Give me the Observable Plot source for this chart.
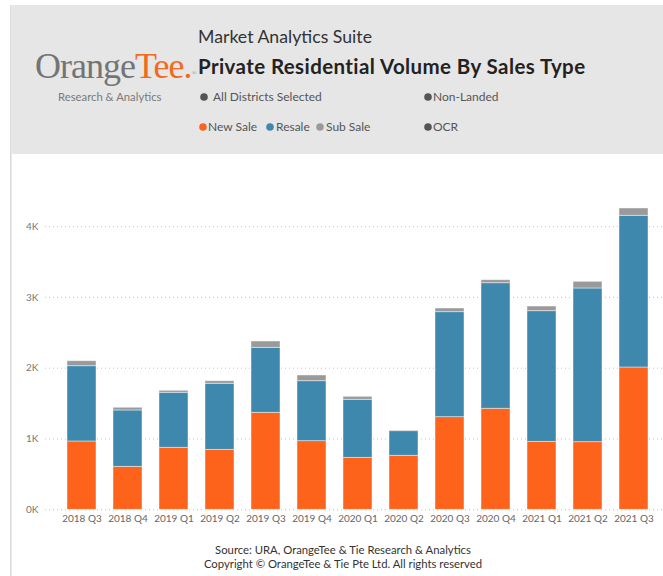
<!DOCTYPE html>
<html>
<head>
<meta charset="utf-8">
<script src="https://cdn.jsdelivr.net/npm/d3@7"></script>
<script src="https://cdn.jsdelivr.net/npm/@observablehq/plot@0.6"></script>
<style>
  html, body { margin: 0; padding: 0; }
  body { width: 663px; height: 576px; background: #fff; position: relative; overflow: hidden; font-family: Lato, "Open Sans", sans-serif; }
  #head { position: absolute; left: 0; top: 0; }
  #chart { position: absolute; left: 0; top: 154px; }
  #foot { position: absolute; left: 0; top: 543px; width: 686px; text-align: center; font-size: 11.3px; line-height: 14px; color: #333; }
  #edge { position: absolute; left: 10px; top: 5px; width: 2px; height: 571px; background: linear-gradient(to right, #d6d6d6, #ededed); }
</style>
</head>
<body>
<div id="edge"></div>
<svg id="head" width="663" height="154" xmlns="http://www.w3.org/2000/svg">
  <rect x="12" y="5" width="651" height="149" fill="#e6e6e6"></rect>
  <text x="35" y="78" font-family="'Liberation Serif', 'DejaVu Serif', serif" font-size="36" letter-spacing="-1" fill="#747474">Orange<tspan fill="#f26a22">Tee.</tspan><tspan fill="#999" font-size="7" dy="-3">®</tspan></text>
  <text x="58" y="101" font-size="11.3" fill="#7a7a7a" font-family="Lato, 'Open Sans', sans-serif">Research &amp; Analytics</text>
  <text x="198" y="43" font-size="17.7" fill="#333" font-family="Lato, 'Open Sans', sans-serif">Market Analytics Suite</text>
  <text x="198" y="74" font-size="20.5" font-weight="bold" letter-spacing="0.4" fill="#222" font-family="Lato, 'Open Sans', sans-serif">Private Residential Volume By Sales Type</text>
  <g font-size="12" fill="#555" font-family="Lato, 'Open Sans', sans-serif">
    <circle cx="204" cy="97" r="3.8" fill="#555"></circle>
    <text x="213" y="101">All Districts Selected</text>
    <circle cx="428" cy="97" r="3.8" fill="#555"></circle>
    <text x="433" y="101">Non-Landed</text>
    <circle cx="203" cy="127" r="3.8" fill="#fe631b"></circle>
    <text x="208" y="131">New Sale</text>
    <circle cx="270" cy="127" r="3.8" fill="#3f88ad"></circle>
    <text x="276" y="131">Resale</text>
    <circle cx="320" cy="127" r="3.8" fill="#9a9a9a"></circle>
    <text x="326" y="131">Sub Sale</text>
    <circle cx="428" cy="127" r="3.8" fill="#555"></circle>
    <text x="433" y="131">OCR</text>
  </g>
</svg>
<div id="chart"></div>
<div id="foot">Source: URA, OrangeTee &amp; Tie Research &amp; Analytics<br>Copyright © OrangeTee &amp; Tie Pte Ltd. All rights reserved</div>
<script>
const categories = ["2018 Q3","2018 Q4","2019 Q1","2019 Q2","2019 Q3","2019 Q4","2020 Q1","2020 Q2","2020 Q3","2020 Q4","2021 Q1","2021 Q2","2021 Q3"];
const types = ["New Sale","Resale","Sub Sale"];
const newSale = [965, 607, 876, 847, 1370, 969, 734, 763, 1308, 1427, 960, 955, 2010];
const resale  = [1063, 796, 777, 933, 918, 847, 820, 347, 1483, 1773, 1845, 2171, 2143];
const subSale = [71, 38, 28, 36, 89, 81, 42, 10, 52, 43, 66, 94, 103];
const yTicks = [0, 1000, 2000, 3000, 4000];
const colors = ["#fe631b", "#3f88ad", "#9a9a9a"];

const series = [newSale, resale, subSale];
const rows = [];
categories.forEach((q, i) => {
  types.forEach((t, j) => rows.push({quarter: q, type: t, value: series[j][i]}));
});

const chart = Plot.plot({
  width: 663,
  height: 385,
  marginLeft: 51,
  marginRight: 0,
  marginTop: 36.7,
  marginBottom: 29.7,
  style: {fontFamily: "Lato, 'Open Sans', sans-serif", fontSize: "10px", background: "transparent", overflow: "visible"},
  x: {domain: categories, paddingInner: 0.37, paddingOuter: 0.33, align: 0.5, label: null},
  y: {domain: [0, 4500], label: null},
  color: {domain: types, range: colors},
  marks: [
    Plot.gridY(yTicks, {stroke: "#c4c4c4", strokeOpacity: 1, strokeDasharray: "1,3", insetLeft: -6}),
    Plot.axisY(yTicks, {tickSize: 0, tickPadding: 13, tickFormat: d => (d / 1000) + "K", fill: "#777", fontSize: 10, label: null}),
    Plot.axisX({tickSize: 0, tickPadding: 5, fill: "#666", fontSize: 10, label: null}),
    Plot.barY(rows, {x: "quarter", y: "value", fill: "type", stroke: "#ffffff", strokeOpacity: 0.55, strokeWidth: 0.8})
  ]
});
document.getElementById("chart").appendChild(chart);
</script>
</body>
</html>
